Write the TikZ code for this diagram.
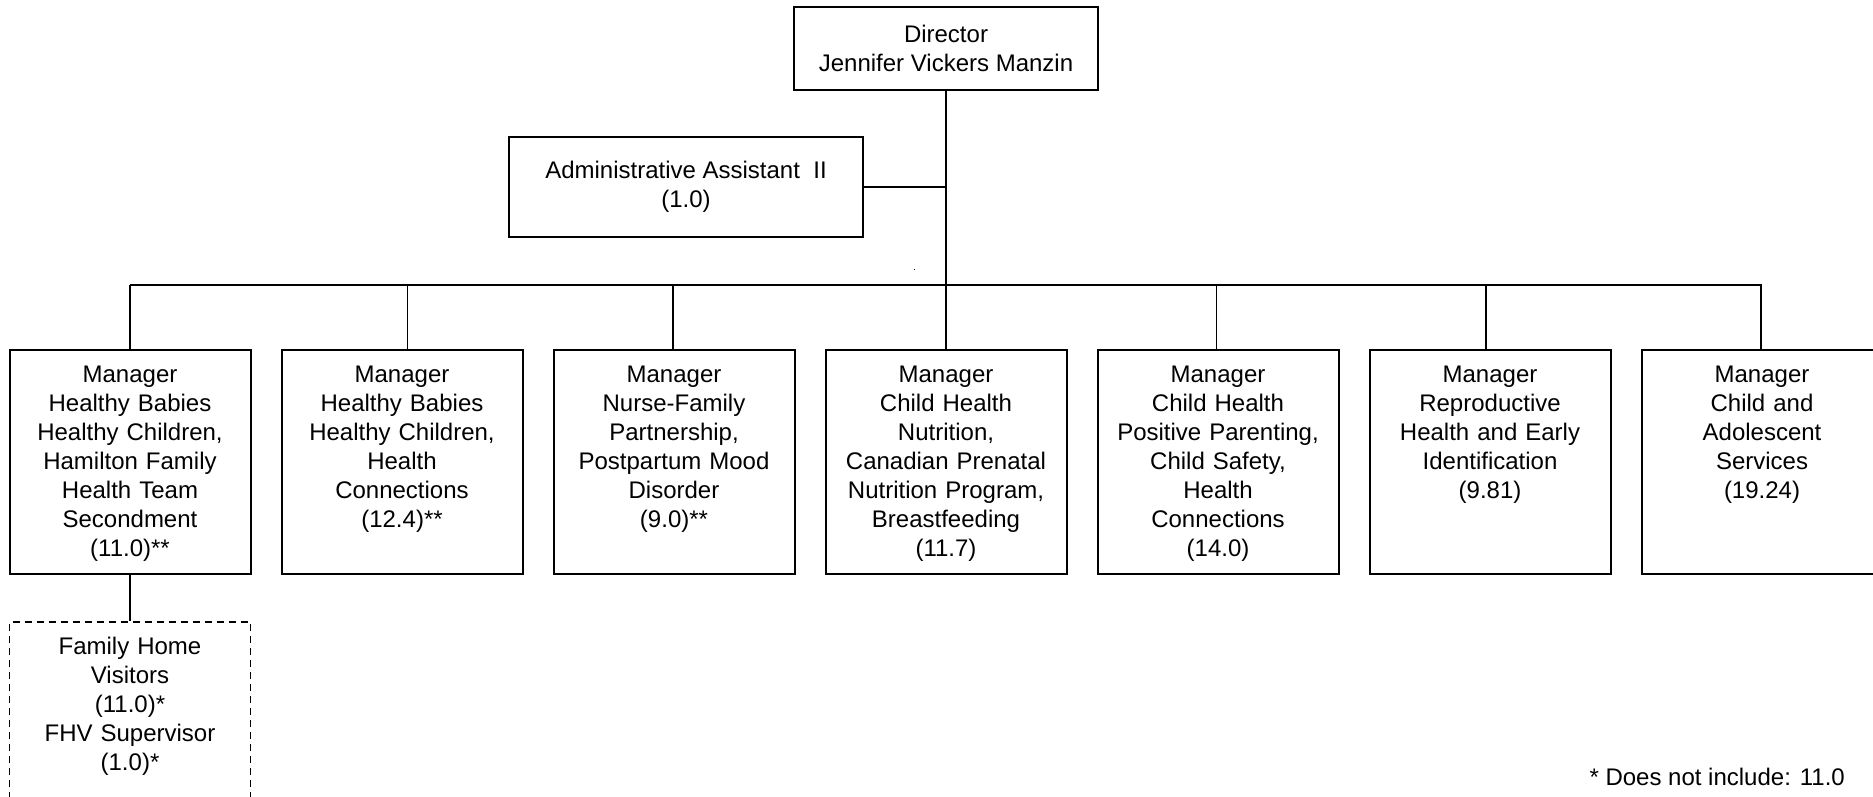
\documentclass[tikz,border=0pt]{standalone}
\usepackage{fontspec}
\setmainfont{Liberation Sans}
\begin{document}
\begin{tikzpicture}[x=1pt,y=-1pt,
  every node/.style={font=\fontsize{24}{29}\selectfont},
  box/.style={draw, rectangle, line width=2pt, inner sep=0pt, align=center},
  unit/.style={box, anchor=north, text width=236pt, minimum width=241pt,
    text height=32.6pt, text depth=191.4pt},
  conn/.style={line width=1.4pt},
  bar/.style={line width=2pt}
]
\useasboundingbox (0,0) rectangle (1873,796);
\clip (0,0) rectangle (1873,796);

% top level
\node[box, minimum width=304pt, minimum height=83pt] (dir) at (946,48.5)
  {Director\\Jennifer Vickers Manzin};
\node[box, minimum width=354pt, minimum height=100pt] (adm) at (686,187)
  {Administrative Assistant \ II\\(1.0)};

% managers
\node[unit] (m1) at (130,349)
  {Manager\\Healthy Babies\\Healthy Children,\\Hamilton Family\\Health Team\\Secondment\\(11.0)**};
\node[unit] (m2) at (402,349)
  {Manager\\Healthy Babies\\Healthy Children,\\Health\\Connections\\(12.4)**};
\node[unit] (m3) at (674,349)
  {Manager\\Nurse-Family\\Partnership,\\Postpartum Mood\\Disorder\\(9.0)**};
\node[unit] (m4) at (946,349)
  {Manager\\Child Health\\Nutrition,\\Canadian Prenatal\\Nutrition Program,\\Breastfeeding\\(11.7)};
\node[unit] (m5) at (1218,349)
  {Manager\\Child Health\\Positive Parenting,\\Child Safety,\\Health\\Connections\\(14.0)};
\node[unit] (m6) at (1490,349)
  {Manager\\Reproductive\\Health and Early\\Identification\\(9.81)};
\node[unit] (m7) at (1762,349)
  {Manager\\Child and\\Adolescent\\Services\\(19.24)};

% seconded staff
\node[unit, line width=1.8pt, dash pattern=on 7pt off 5pt] (fhv) at (130,621)
  {Family Home\\Visitors\\(11.0)*\\FHV Supervisor\\(1.0)*};

% connectors
\coordinate (busL) at (130,285);
\coordinate (busR) at (1762,285);
\draw[conn] (dir.south) -- (dir.south |- busL);
\draw[bar] (adm.east) -- (adm.east -| dir.south);
\draw[bar] (busL) -- (busR);
\foreach \m/\dx in {m1/0,m2/5.5,m3/-1,m5/-1.5,m6/-4,m7/-1}
  \draw[conn] ([xshift=\dx pt]\m.north |- busL) -- ([xshift=\dx pt]\m.north);
\draw[conn] (dir.south |- busL) -- (m4.north);
\draw[conn] (m1.south) -- (fhv.north);

\fill (914,268.5) rectangle (915,270);

% footnote
\node[anchor=east, inner sep=0pt] (note) at (1845,777) {* Does not include: 11.0};
\end{tikzpicture}
\end{document}
